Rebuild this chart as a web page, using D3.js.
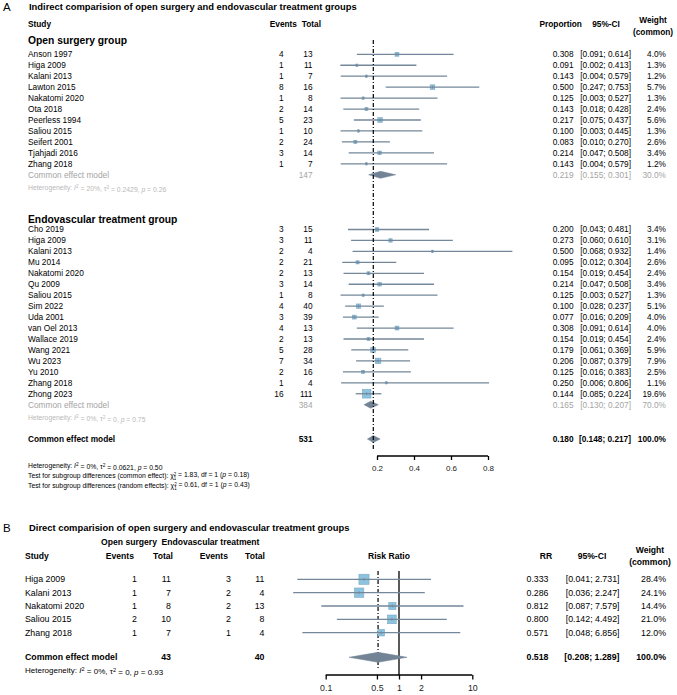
<!DOCTYPE html>
<html>
<head>
<meta charset="utf-8">
<script src="https://d3js.org/d3.v7.min.js"></script>
<style>
body { margin: 0; background: #fff; }
svg text { font-family: "Liberation Sans", Arial, Helvetica, sans-serif; }
</style>
</head>
<body>
<svg id="drawing_region"></svg>
<script>
// ---- panel A : open surgery group ----
const openStudies = ["Anson 1997", "Higa 2009", "Kalani 2013", "Lawton 2015", "Nakatomi 2020", "Ota 2018",
                     "Peerless 1994", "Saliou 2015", "Seifert 2001", "Tjahjadi 2016", "Zhang 2018"];
const openEvents = [4, 1, 1, 8, 1, 2, 5, 1, 2, 3, 1];
const openTotals = [13, 11, 7, 16, 8, 14, 23, 10, 24, 14, 7];
const openProp   = [0.308, 0.091, 0.143, 0.500, 0.125, 0.143, 0.217, 0.100, 0.083, 0.214, 0.143];
const openLower  = [0.091, 0.002, 0.004, 0.247, 0.003, 0.018, 0.075, 0.003, 0.010, 0.047, 0.004];
const openUpper  = [0.614, 0.413, 0.579, 0.753, 0.527, 0.428, 0.437, 0.445, 0.270, 0.508, 0.579];
const openWeight = [4.0, 1.3, 1.2, 5.7, 1.3, 2.4, 5.6, 1.3, 2.6, 3.4, 1.2];
const openPooled = [0.219, 0.155, 0.301, 30.0, 147];   // est, lower, upper, weight, total
const openHet    = ["20%", "0.2429", "0.26"];

// ---- panel A : endovascular treatment group ----
const endoStudies = ["Cho 2019", "Higa 2009", "Kalani 2013", "Mu 2014", "Nakatomi 2020", "Qu 2009", "Saliou 2015",
                     "Sim 2022", "Uda 2001", "van Oel 2013", "Wallace 2019", "Wang 2021", "Wu 2023", "Yu 2010",
                     "Zhang 2018", "Zhong 2023"];
const endoEvents = [3, 3, 2, 2, 2, 3, 1, 4, 3, 4, 2, 5, 7, 2, 1, 16];
const endoTotals = [15, 11, 4, 21, 13, 14, 8, 40, 39, 13, 13, 28, 34, 16, 4, 111];
const endoProp   = [0.200, 0.273, 0.500, 0.095, 0.154, 0.214, 0.125, 0.100, 0.077, 0.308, 0.154, 0.179, 0.206, 0.125, 0.250, 0.144];
const endoLower  = [0.043, 0.060, 0.068, 0.012, 0.019, 0.047, 0.003, 0.028, 0.016, 0.091, 0.019, 0.061, 0.087, 0.016, 0.006, 0.085];
const endoUpper  = [0.481, 0.610, 0.932, 0.304, 0.454, 0.508, 0.527, 0.237, 0.209, 0.614, 0.454, 0.369, 0.379, 0.383, 0.806, 0.224];
const endoWeight = [3.4, 3.1, 1.4, 2.6, 2.4, 3.4, 1.3, 5.1, 4.0, 4.0, 2.4, 5.9, 7.9, 2.5, 1.1, 19.6];
const endoPooled = [0.165, 0.130, 0.207, 70.0, 384];
const endoHet    = ["0%", "0", "0.75"];

const overallPooled = [0.180, 0.148, 0.217, 100.0, 531];
const overallHet    = ["0%", "0.0621", "0.50"];
const subgroupTests = [["common effect", "1.83", "1", "0.18"], ["random effects", "0.61", "1", "0.43"]];
const axisATicks = [0.2, 0.4, 0.6, 0.8];

// ---- panel B : direct comparison ----
const bStudies   = ["Higa 2009", "Kalani 2013", "Nakatomi 2020", "Saliou 2015", "Zhang 2018"];
const bOpenEv    = [1, 1, 1, 2, 1];
const bOpenTot   = [11, 7, 8, 10, 7];
const bEndoEv    = [3, 2, 2, 2, 1];
const bEndoTot   = [11, 4, 13, 8, 4];
const bRR        = [0.333, 0.286, 0.812, 0.800, 0.571];
const bLower     = [0.041, 0.036, 0.087, 0.142, 0.048];
const bUpper     = [2.731, 2.247, 7.579, 4.492, 6.856];
const bWeight    = [28.4, 24.1, 14.4, 21.0, 12.0];
const bPooled    = [0.518, 0.208, 1.289, 100.0, 43, 40];
const bHet       = ["0%", "0", "0.93"];
const axisBTicks = [0.1, 0.5, 1, 2, 10];

const f3 = d3.format(".3f");
const fw = d => d3.format(".1f")(d) + "%";
const ciText = (lo, hi) => `[${f3(lo)}; ${f3(hi)}]`;

const col = { line: "#75879a", fill: "#8cc4e0", sqStroke: "#7aa8c4", diamond: "#718394",
              gray: "#a4a4a4", light: "#b9b9b9" };

const svg = d3.select('#drawing_region').attr('width', 677).attr('height', 695);

function txt(g, x, y, s, o) {
    o = o || {};
    return g.append('text')
        .attr('x', x).attr('y', y).attr('dy', '0.35em')
        .attr('font-size', o.size || 8.3)
        .attr('font-weight', o.bold ? 'bold' : null)
        .attr('font-style', o.italic ? 'italic' : null)
        .attr('text-anchor', o.anchor || 'start')
        .attr('fill', o.color || '#000')
        .text(s);
}

// heterogeneity line:  Heterogeneity: I² = .., τ² = .., p = ..
function hetLine(g, x, y, het, size, color) {
    const t = txt(g, x, y, null, { size: size, color: color });
    t.append('tspan').text('Heterogeneity: ');
    t.append('tspan').attr('font-style', 'italic').text('I');
    t.append('tspan').attr('dy', '-0.4em').attr('font-size', size * 0.7).text('2');
    t.append('tspan').attr('dy', '0.4em').text(` = ${het[0]},  τ`);
    t.append('tspan').attr('dy', '-0.4em').attr('font-size', size * 0.7).text('2');
    t.append('tspan').attr('dy', '0.4em').text(` = ${het[1]}, `);
    t.append('tspan').attr('font-style', 'italic').text('p');
    t.append('tspan').text(` = ${het[2]}`);
}

function testLine(g, x, y, tst, size) {
    const t = txt(g, x, y, null, { size: size });
    t.append('tspan').text(`Test for subgroup differences (${tst[0]}):  χ`);
    t.append('tspan').attr('dy', '-0.45em').attr('font-size', size * 0.65).text('2');
    t.append('tspan').attr('dx', -size * 0.36).attr('dy', '0.85em').attr('font-size', size * 0.65).text('1');
    t.append('tspan').attr('dy', '-0.4em').text(` = ${tst[1]}, df = ${tst[2]} (`);
    t.append('tspan').attr('font-style', 'italic').text('p');
    t.append('tspan').text(` = ${tst[3]})`);
}

function studyMarks(g, rows, x, k) {
    const sel = g.selectAll(null).data(rows).enter().append('g');
    sel.append('rect')
        .attr('x', d => x(d.est) - k * Math.sqrt(d.w) / 2)
        .attr('y', d => d.y - k * Math.sqrt(d.w) / 2)
        .attr('width', d => k * Math.sqrt(d.w))
        .attr('height', d => k * Math.sqrt(d.w))
        .attr('fill', col.fill).attr('stroke', col.sqStroke).attr('stroke-width', 0.6);
    sel.append('line')
        .attr('x1', d => x(d.lo)).attr('x2', d => x(d.hi))
        .attr('y1', d => d.y).attr('y2', d => d.y)
        .attr('stroke', col.line).attr('stroke-width', 1.3);
    sel.append('line')
        .attr('x1', d => x(d.est)).attr('x2', d => x(d.est))
        .attr('y1', d => d.y - 1.5).attr('y2', d => d.y + 1.5)
        .attr('stroke', col.line).attr('stroke-width', 0.8);
}

function diamond(g, x, y, p, h, fill) {
    g.append('path')
        .attr('d', `M${x(p[1])},${y} L${x(p[0])},${y - h / 2} L${x(p[2])},${y} L${x(p[0])},${y + h / 2} Z`)
        .attr('fill', fill).attr('stroke', fill).attr('stroke-width', 0.5);
}

// ================= PANEL A =================
const gA = svg.append('g');
const xA = d3.scaleLinear().domain([0, 1]).range([340, 525]);
const yA = d3.scaleLinear().domain([0, 1]).range([54.3, 65.25]);
const cA = { study: 28, events: 283.5, total: 312.5, prop: 573.5, ci: 631, weight: 666 };

txt(gA, 3, 7, "A", { size: 11.5 });
txt(gA, 29, 7, "Indirect comparision of open surgery and endovascular treatment groups", { size: 9.4, bold: true });
txt(gA, cA.study, 24.5, "Study", { bold: true });
txt(gA, 297, 24.5, "Events", { bold: true, anchor: 'end' });
txt(gA, 321, 24.5, "Total", { bold: true, anchor: 'end' });
txt(gA, 539.5, 24.5, "Proportion", { bold: true });
txt(gA, 606, 24.5, "95%-CI", { bold: true, anchor: 'middle' });
txt(gA, 653, 20.5, "Weight", { bold: true, anchor: 'middle' });
txt(gA, 653, 32.3, "(common)", { bold: true, anchor: 'middle' });

function groupBlock(g, name, headerY, first, studies, ev, tot, est, lo, hi, w, pooled, het) {
    txt(g, cA.study, headerY, name, { size: 10.3, bold: true });
    const rows = studies.map((s, i) => ({ s: s, ev: ev[i], tot: tot[i], est: est[i], lo: lo[i], hi: hi[i], w: w[i], y: yA(first + i) }));
    const rowText = (x, f, anchor) => g.selectAll(null).data(rows).enter().append('text')
        .attr('x', x).attr('y', d => d.y).attr('dy', '0.35em')
        .attr('font-size', 8.3).attr('text-anchor', anchor).text(f);
    rowText(cA.study, d => d.s, 'start');
    rowText(cA.events, d => d.ev, 'end');
    rowText(cA.total, d => d.tot, 'end');
    rowText(cA.prop, d => f3(d.est), 'end');
    rowText(cA.ci, d => ciText(d.lo, d.hi), 'end');
    rowText(cA.weight, d => fw(d.w), 'end');
    studyMarks(g, rows, xA, 1.95);

    const py = yA(first + studies.length);
    txt(g, cA.study, py, "Common effect model", { color: col.gray });
    txt(g, cA.total, py, pooled[4], { color: col.gray, anchor: 'end' });
    txt(g, cA.prop, py, f3(pooled[0]), { color: col.gray, anchor: 'end' });
    txt(g, cA.ci, py, ciText(pooled[1], pooled[2]), { color: col.gray, anchor: 'end' });
    txt(g, cA.weight, py, fw(pooled[3]), { color: col.gray, anchor: 'end' });
    diamond(g, xA, py, pooled, 7, col.diamond);
    hetLine(g, cA.study, yA(first + studies.length + 1.2), het, 6.8, col.light);
}

groupBlock(gA, "Open surgery group", 40.7, 0, openStudies, openEvents, openTotals,
           openProp, openLower, openUpper, openWeight, openPooled, openHet);
groupBlock(gA, "Endovascular treatment group", yA(15.07), 16, endoStudies, endoEvents, endoTotals,
           endoProp, endoLower, endoUpper, endoWeight, endoPooled, endoHet);

const oy = 439;
txt(gA, cA.study, oy, "Common effect model", { bold: true });
txt(gA, cA.total, oy, overallPooled[4], { bold: true, anchor: 'end' });
txt(gA, cA.prop, oy, f3(overallPooled[0]), { bold: true, anchor: 'end' });
txt(gA, cA.ci, oy, ciText(overallPooled[1], overallPooled[2]), { bold: true, anchor: 'end' });
txt(gA, cA.weight, oy, fw(overallPooled[3]), { bold: true, anchor: 'end' });
diamond(gA, xA, oy, overallPooled, 7, col.diamond);

hetLine(gA, cA.study, 466, overallHet, 6.8, '#000');
testLine(gA, cA.study, 476, subgroupTests[0], 6.8);
testLine(gA, cA.study, 486, subgroupTests[1], 6.8);

// reference line at the overall estimate
gA.append('line')
    .attr('x1', xA(overallPooled[0])).attr('x2', xA(overallPooled[0]))
    .attr('y1', 40).attr('y2', 449)
    .attr('stroke', '#000').attr('stroke-width', 1.2).attr('stroke-dasharray', '4,2,1,2');

const axisA = d3.axisBottom(xA).tickValues(axisATicks).tickSize(4).tickPadding(5).tickFormat(d3.format(".1f"));
const axA = gA.append('g').attr('transform', 'translate(0,456)').call(axisA);
axA.select('.domain').remove();
axA.append('line').attr('x1', xA(axisATicks[0])).attr('x2', xA(axisATicks[axisATicks.length - 1]))
    .attr('stroke', '#000').attr('stroke-width', 1.3);
axA.selectAll('.tick line').attr('stroke-width', 1.3);
axA.selectAll('.tick text').attr('font-size', 8).attr('fill', '#222')
    .attr('font-family', '"Liberation Sans", Arial, sans-serif');

// ================= PANEL B =================
const gB = svg.append('g');
const xB = d3.scaleLog().domain([0.1, 10]).range([325.7, 472.3]);
const yB = d3.scaleLinear().domain([0, 1]).range([579.3, 592.65]);
const cB = { study: 25, ev1: 137, tot1: 171, ev2: 231, tot2: 264.5, rr: 548.5, ci: 619.5, weight: 666 };

txt(gB, 3, 527.5, "B", { size: 11.5 });
txt(gB, 29, 527.5, "Direct comparision of open surgery and endovascular treatment groups", { size: 9.4, bold: true });
txt(gB, 129, 541.7, "Open surgery", { size: 8.6, bold: true, anchor: 'middle' });
txt(gB, 210.5, 541.7, "Endovascular treatment", { size: 8.6, bold: true, anchor: 'middle' });
txt(gB, cB.study, 556, "Study", { size: 8.6, bold: true });
txt(gB, 134, 556, "Events", { size: 8.6, bold: true, anchor: 'end' });
txt(gB, 173, 556, "Total", { size: 8.6, bold: true, anchor: 'end' });
txt(gB, 228, 556, "Events", { size: 8.6, bold: true, anchor: 'end' });
txt(gB, 265, 556, "Total", { size: 8.6, bold: true, anchor: 'end' });
txt(gB, 389, 556, "Risk Ratio", { size: 8.6, bold: true, anchor: 'middle' });
txt(gB, 546, 556, "RR", { size: 8.6, bold: true, anchor: 'middle' });
txt(gB, 592, 556, "95%-CI", { size: 8.6, bold: true, anchor: 'middle' });
txt(gB, 650, 549.5, "Weight", { size: 8.6, bold: true, anchor: 'middle' });
txt(gB, 650, 561.5, "(common)", { size: 8.6, bold: true, anchor: 'middle' });

const rowsB = bStudies.map((s, i) => ({ s: s, e1: bOpenEv[i], t1: bOpenTot[i], e2: bEndoEv[i], t2: bEndoTot[i],
                                        est: bRR[i], lo: bLower[i], hi: bUpper[i], w: bWeight[i], y: yB(i) }));
const rowTextB = (x, f, anchor) => gB.selectAll(null).data(rowsB).enter().append('text')
    .attr('x', x).attr('y', d => d.y).attr('dy', '0.35em')
    .attr('font-size', 8.8).attr('text-anchor', anchor).text(f);
rowTextB(cB.study, d => d.s, 'start');
rowTextB(cB.ev1, d => d.e1, 'end');
rowTextB(cB.tot1, d => d.t1, 'end');
rowTextB(cB.ev2, d => d.e2, 'end');
rowTextB(cB.tot2, d => d.t2, 'end');
rowTextB(cB.rr, d => f3(d.est), 'end');
rowTextB(cB.ci, d => ciText(d.lo, d.hi), 'end');
rowTextB(cB.weight, d => fw(d.w), 'end');

// lines of no effect and pooled estimate
gB.append('line').attr('x1', xB(1)).attr('x2', xB(1)).attr('y1', 571).attr('y2', 675)
    .attr('stroke', '#000').attr('stroke-width', 1.3);
gB.append('line').attr('x1', xB(bPooled[0])).attr('x2', xB(bPooled[0])).attr('y1', 571).attr('y2', 669)
    .attr('stroke', '#000').attr('stroke-width', 1.2).attr('stroke-dasharray', '4,2,1,2');

studyMarks(gB, rowsB, xB, 1.9);

const by = 657.3;
txt(gB, cB.study, by, "Common effect model", { size: 8.8, bold: true });
txt(gB, cB.tot1, by, bPooled[4], { size: 8.8, bold: true, anchor: 'end' });
txt(gB, cB.tot2, by, bPooled[5], { size: 8.8, bold: true, anchor: 'end' });
txt(gB, cB.rr, by, f3(bPooled[0]), { size: 8.8, bold: true, anchor: 'end' });
txt(gB, cB.ci, by, ciText(bPooled[1], bPooled[2]), { size: 8.8, bold: true, anchor: 'end' });
txt(gB, cB.weight, by, fw(bPooled[3]), { size: 8.8, bold: true, anchor: 'end' });
diamond(gB, xB, by, bPooled, 10, col.diamond);
hetLine(gB, cB.study, 670.5, bHet, 8, '#000');

const axisB = d3.axisBottom(xB).tickValues(axisBTicks).tickSize(4.5).tickPadding(5).tickFormat(d => d);
const axB = gB.append('g').attr('transform', 'translate(0,675)').call(axisB);
axB.select('.domain').attr('stroke-width', 1.3).attr('d', `M${xB(0.1)},0H${xB(10)}`);
axB.selectAll('.tick line').attr('stroke-width', 1.3);
axB.selectAll('.tick text').attr('font-size', 8.8).attr('fill', '#222')
    .attr('font-family', '"Liberation Sans", Arial, sans-serif');
</script>
</body>
</html>
